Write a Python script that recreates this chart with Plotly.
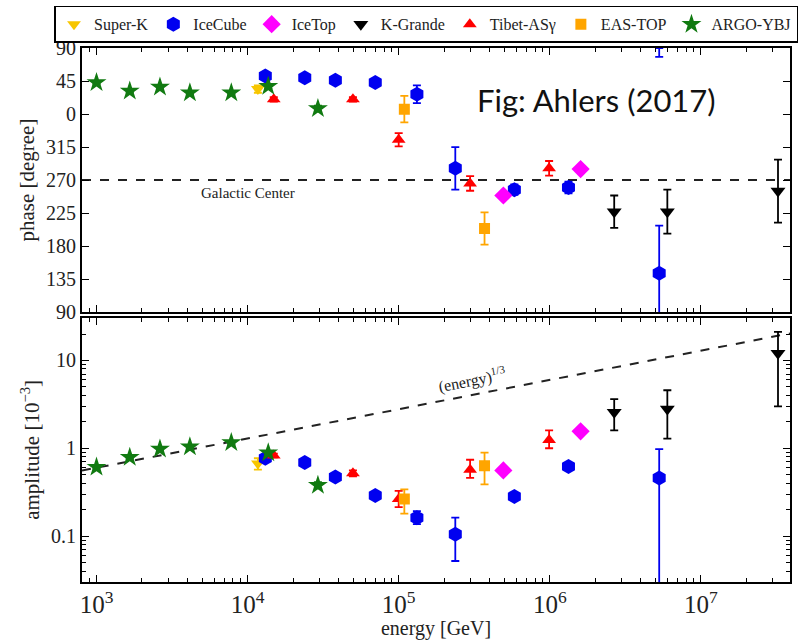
import numpy as np
import plotly.graph_objects as go
from plotly.subplots import make_subplots

# ---- dipole phase / amplitude measurements (energy in GeV, amplitude in 1e-3) ----
argo_E = [1.0e3, 1.66e3, 2.63e3, 4.15e3, 7.8e3, 1.37e4, 2.92e4]
argo_phase = [43, 31.5, 37, 29, 29, 38, 7.5]
argo_phase_err = [2, 2, 2, 2, 2, 3, 4]
argo_amp = [0.61, 0.79, 0.98, 1.04, 1.16, 0.89, 0.38]
argo_amp_err = [0.02, 0.02, 0.03, 0.03, 0.04, 0.04, 0.03]

superk_E = [1.17e4]
superk_phase = [34]
superk_phase_err = [5]
superk_amp = [0.67]
superk_amp_err = [0.1]

icecube_E = [1.31e4, 2.39e4, 3.81e4, 7.0e4, 1.32e5, 2.37e5, 5.83e5, 1.33e6, 5.3e6]
icecube_phase = [52, 49.5, 46, 43, 27, 286, 257, 260, 143]
icecube_phase_err = [2, 2, 2, 3, 12, 29, 7, 8, 65]
icecube_amp = [0.77, 0.69, 0.47, 0.29, 0.162, 0.105, 0.283, 0.62, 0.46]
icecube_amp_errp = [0.02, 0.02, 0.02, 0.02, 0.03, 0.057, 0.02, 0.05, 0.52]
icecube_amp_errm = [0.02, 0.02, 0.02, 0.02, 0.025, 0.053, 0.02, 0.05, 0.459]

icetop_E = [4.93e5, 1.6e6]
icetop_phase = [249, 285]
icetop_phase_err = [5, 3]
icetop_amp = [0.56, 1.56]
icetop_amp_err = [0.04, 0.05]

kgrande_E = [2.67e6, 6.0e6, 3.24e7]
kgrande_phase = [227, 227, 255]
kgrande_phase_err = [22, 30, 43]
kgrande_amp = [2.58, 2.8, 12.1]
kgrande_amp_errp = [1.05, 1.78, 9.1]
kgrande_amp_errm = [0.98, 1.51, 9.1]

tibet_E = [1.49e4, 4.98e4, 1.0e5, 2.97e5, 9.9e5]
tibet_phase = [20, 20, 325, 265.5, 286]
tibet_phase_err = [3, 3, 9, 10, 10]
tibet_amp = [0.83, 0.52, 0.264, 0.57, 1.24]
tibet_amp_errp = [0.04, 0.04, 0.063, 0.17, 0.36]
tibet_amp_errm = [0.04, 0.04, 0.05, 0.11, 0.24]

eastop_E = [1.09e5, 3.7e5]
eastop_phase = [6.7, 204]
eastop_phase_err = [18, 22]
eastop_amp = [0.264, 0.634]
eastop_amp_errp = [0.076, 0.26]
eastop_amp_errm = [0.084, 0.246]

galactic_center = 270
line_norm = 0.6          # amplitude of the E^(1/3) guide at 1 TeV
x_range_log = [2.904, 7.59]

phase_ticks = [90, 135, 180, 225, 270, 315, 360, 405, 450]

SERIF = "'Liberation Serif', 'Times New Roman', Times, 'DejaVu Serif', serif"
INK = "#222222"


def wrap(phases):
    # show phase on a 90..450 window so the 0/360 crossing stays continuous
    return [p + 360 if p <= 90 else p for p in phases]


fig = make_subplots(rows=2, cols=1, shared_xaxes=True, vertical_spacing=0.0105)

series = [
    dict(name="Super-K", E=superk_E, ph=superk_phase, phe=superk_phase_err,
         amp=superk_amp, ap=superk_amp_err, am=superk_amp_err,
         color="#f7c600", symbol="triangle-down", size=12),
    dict(name="IceCube", E=icecube_E, ph=icecube_phase, phe=icecube_phase_err,
         amp=icecube_amp, ap=icecube_amp_errp, am=icecube_amp_errm,
         color="#0000f0", symbol="hexagon", size=15),
    dict(name="IceTop", E=icetop_E, ph=icetop_phase, phe=icetop_phase_err,
         amp=icetop_amp, ap=icetop_amp_err, am=icetop_amp_err,
         color="#ff00ff", symbol="diamond", size=14),
    dict(name="K-Grande", E=kgrande_E, ph=kgrande_phase, phe=kgrande_phase_err,
         amp=kgrande_amp, ap=kgrande_amp_errp, am=kgrande_amp_errm,
         color="#000000", symbol="triangle-down", size=13),
    dict(name="Tibet-ASγ", E=tibet_E, ph=tibet_phase, phe=tibet_phase_err,
         amp=tibet_amp, ap=tibet_amp_errp, am=tibet_amp_errm,
         color="#ff0000", symbol="triangle-up", size=12),
    dict(name="EAS-TOP", E=eastop_E, ph=eastop_phase, phe=eastop_phase_err,
         amp=eastop_amp, ap=eastop_amp_errp, am=eastop_amp_errm,
         color="#ffa500", symbol="square", size=11),
    dict(name="ARGO-YBJ", E=argo_E, ph=argo_phase, phe=argo_phase_err,
         amp=argo_amp, ap=argo_amp_err, am=argo_amp_err,
         color="#117a11", symbol="star", size=15),
]

# reference lines drawn first so markers sit on top
fig.add_trace(go.Scatter(x=[10 ** x_range_log[0], 10 ** x_range_log[1]],
                         y=[galactic_center, galactic_center], mode="lines",
                         line=dict(color=INK, width=2, dash="dash"),
                         showlegend=False, hoverinfo="skip"), row=1, col=1)
guide_E = np.logspace(x_range_log[0], x_range_log[1], 50)
fig.add_trace(go.Scatter(x=guide_E, y=line_norm * (guide_E / 1e3) ** (1 / 3),
                         mode="lines",
                         line=dict(color=INK, width=2, dash="dash"),
                         showlegend=False, hoverinfo="skip"), row=2, col=1)

for s in series:
    fig.add_trace(go.Scatter(
        x=s["E"], y=wrap(s["ph"]), mode="markers", name=s["name"],
        legendgroup=s["name"],
        marker=dict(symbol=s["symbol"], size=s["size"], color=s["color"],
                    line=dict(width=0)),
        error_y=dict(type="data", array=s["phe"], color=s["color"],
                     thickness=1.8, width=4),
    ), row=1, col=1)
    fig.add_trace(go.Scatter(
        x=s["E"], y=s["amp"], mode="markers", name=s["name"],
        legendgroup=s["name"], showlegend=False,
        marker=dict(symbol=s["symbol"], size=s["size"], color=s["color"],
                    line=dict(width=0)),
        error_y=dict(type="data", symmetric=False, array=s["ap"],
                     arrayminus=s["am"], color=s["color"],
                     thickness=1.8, width=4),
    ), row=2, col=1)

# lower phase error of the highest-energy IceCube point wraps past 90 deg
k = len(icecube_E) - 1
wrapped_low = icecube_phase[k] - icecube_phase_err[k] + 360
fig.add_trace(go.Scatter(
    x=[icecube_E[k]], y=[450], mode="markers",
    marker=dict(size=1, color="rgba(0,0,0,0)"),
    error_y=dict(type="data", symmetric=False, array=[0],
                 arrayminus=[450 - wrapped_low], color="#0000f0",
                 thickness=1.8, width=4),
    showlegend=False, hoverinfo="skip"), row=1, col=1)

axis_common = dict(showline=True, linecolor="black", linewidth=2, mirror="allticks",
                   ticks="inside", tickcolor="black", ticklen=7, tickwidth=1.2,
                   showgrid=False, zeroline=False,
                   tickfont=dict(family=SERIF, size=20, color=INK))

fig.update_xaxes(type="log", range=x_range_log, dtick=1, exponentformat="power",
                 minor=dict(ticks="inside", ticklen=4, tickcolor="black",
                            dtick="D1", showgrid=False),
                 **axis_common)
fig.update_xaxes(showticklabels=False, row=1, col=1)
fig.update_xaxes(title=dict(text="energy [GeV]", standoff=2,
                            font=dict(family=SERIF, size=20, color=INK)),
                 row=2, col=1)

fig.update_yaxes(range=[90, 450], tickmode="array", tickvals=phase_ticks,
                 ticktext=[str(int(t % 360)) for t in phase_ticks],
                 title=dict(text="phase [degree]", standoff=6,
                            font=dict(family=SERIF, size=21, color=INK)),
                 row=1, col=1, **axis_common)
fig.update_yaxes(type="log", range=[-1.523, 1.486], dtick=1,
                 minor=dict(ticks="inside", ticklen=4, tickcolor="black",
                            dtick="D1", showgrid=False),
                 title=dict(text="amplitude [10<sup>−3</sup>]", standoff=6,
                            font=dict(family=SERIF, size=21, color=INK)),
                 row=2, col=1, **axis_common)

fig.add_annotation(x=np.log10(1.0e4), y=253, xref="x", yref="y",
                   text="Galactic Center", showarrow=False,
                   font=dict(family=SERIF, size=15, color=INK))
fig.add_annotation(x=np.log10(3.1e5), y=np.log10(6.0), xref="x2", yref="y2",
                   text="(energy)<sup>1/3</sup>", showarrow=False, textangle=-11,
                   font=dict(family=SERIF, size=16, color=INK))
fig.add_annotation(x=np.log10(2.03e6), y=378.5, xref="x", yref="y",
                   text="Fig: Ahlers (2017)", showarrow=False,
                   font=dict(family="Lato", size=31, color="#111111"))

fig.update_layout(
    width=798, height=640,
    margin=dict(l=82, r=6, t=45, b=54),
    paper_bgcolor="white", plot_bgcolor="white",
    font=dict(family=SERIF, color=INK),
    legend=dict(orientation="h", x=-0.038, y=1.079, xanchor="left", yanchor="top",
                bordercolor="black", borderwidth=1.5, bgcolor="white",
                font=dict(family=SERIF, size=16, color=INK),
                itemwidth=30, tracegroupgap=0),
)

fig.write_html("out.html")
